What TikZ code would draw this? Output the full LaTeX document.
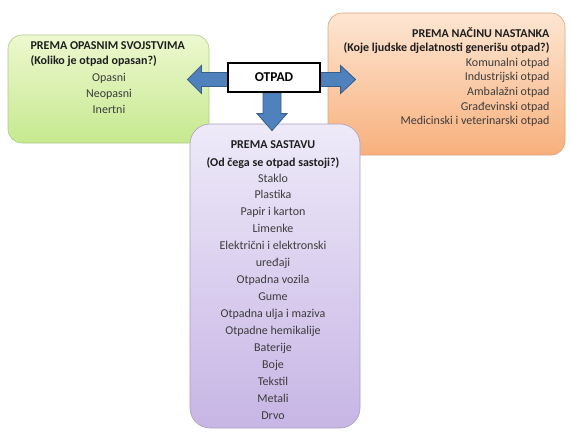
\documentclass[tikz,border=0pt]{standalone}
\usepackage{fontspec}
\setmainfont{Carlito}
\usetikzlibrary{calc,backgrounds}
\definecolor{arrowblue}{HTML}{4F81BD}
\definecolor{arrowedge}{HTML}{385D8A}
\definecolor{titlegray}{HTML}{1E1E1E}
\definecolor{itemgray}{HTML}{3C3C3C}
\definecolor{greentop}{HTML}{EDF8CF}
\definecolor{greenbot}{HTML}{C6E98F}
\definecolor{orangetop}{HTML}{FDE6D3}
\definecolor{orangebot}{HTML}{F8B07C}
\definecolor{purpletop}{HTML}{EEEAF9}
\definecolor{purplebot}{HTML}{C7B5E5}
\tikzset{
  groupbox/.style={draw=#1, rounded corners=14pt, inner sep=0pt, line width=0.6pt},
  otpadbox/.style={draw=black, fill=white, line width=1.2pt, minimum width=92pt,
    minimum height=29pt, inner sep=0pt, font=\fontsize{13.5}{15}\selectfont\bfseries},
  blockarrow/.style={fill=arrowblue, draw=arrowedge, line width=0.8pt, line join=miter},
  title/.style={font=\fontsize{12}{14}\selectfont\bfseries, text=titlegray},
  item/.style={font=\fontsize{12}{14}\selectfont, text=itemgray},
}
\begin{document}
\begin{tikzpicture}[x=1pt, y=-1pt]
  \useasboundingbox (0,0) rectangle (571,432);
  \node[otpadbox] (otpad) at (274,77.5) {OTPAD};
  \begin{scope}[on background layer]
    % three groups
    \node[groupbox=greenbot!70!gray, top color=greentop, bottom color=greenbot,
      minimum width=201pt, minimum height=108pt] (opasnost) at (108.5,89) {};
    \node[groupbox=orangebot!75!gray, top color=orangetop, bottom color=orangebot,
      minimum width=237pt, minimum height=142pt] (nastanak) at (446.5,84) {};
    \node[groupbox=purplebot!60!gray, top color=purpletop, bottom color=purplebot,
      rounded corners=20pt, minimum width=170pt, minimum height=304pt] (sastav) at (275,276) {};
    % block arrows out of OTPAD
    \draw[blockarrow] ($(otpad.west)+(0,-5)$) -- ++(-26,0) -- ++(0,-7) -- ++(-14,14)
      -- ++(14,14) -- ++(0,-7) -- ++(26,0) -- cycle;
    \draw[blockarrow] ($(otpad.east)+(0,-5)$) -- ++(20,0) -- ++(0,-7) -- ++(15,14)
      -- ++(-15,14) -- ++(0,-7) -- ++(-20,0) -- cycle;
    \draw[blockarrow] ($(otpad.south)+(-11,0)$) -- ++(0,21) -- ++(-6,0) -- ++(15,17)
      -- ++(15,-17) -- ++(-6,0) -- ++(0,-21) -- cycle;
  \end{scope}
  % opasna svojstva
  \node[title, anchor=base west] (opasnost-t) at (27,49) {PREMA OPASNIM SVOJSTVIMA};
  \node[title, anchor=base west] (opasnost-q) at (27,64) {(Koliko je otpad opasan?)};
  \foreach \txt [count=\i from 0] in {Opasni, Neopasni, Inertni}
    \node[item, anchor=base] (opasnost-\i) at (109,81+16*\i) {\txt};
  % nacin nastanka
  \node[title, anchor=base east] (nastanak-t) at (553,37) {PREMA NAČINU NASTANKA};
  \node[title, anchor=base east] (nastanak-q) at (553,51.5) {(Koje ljudske djelatnosti generišu otpad?)};
  \foreach \txt [count=\i from 0] in {Komunalni otpad, Industrijski otpad, Ambalažni otpad,
      Građevinski otpad, Medicinski i veterinarski otpad}
    \node[item, anchor=base east] (nastanak-\i) at (553,66+14.7*\i) {\txt};
  % sastav
  \node[title, anchor=base] (sastav-t) at (273,148) {PREMA SASTAVU};
  \node[title, anchor=base] (sastav-q) at (273,166) {(Od čega se otpad sastoji?)};
  \foreach \txt [count=\i from 0] in {Staklo, Plastika, Papir i karton, Limenke,
      Električni i elektronski, uređaji, Otpadna vozila, Gume, Otpadna ulja i maziva,
      Otpadne hemikalije, Baterije, Boje, Tekstil, Metali, Drvo}
    \node[item, anchor=base] (sastav-\i) at (273,182+16.93*\i) {\txt};
\end{tikzpicture}
\end{document}
